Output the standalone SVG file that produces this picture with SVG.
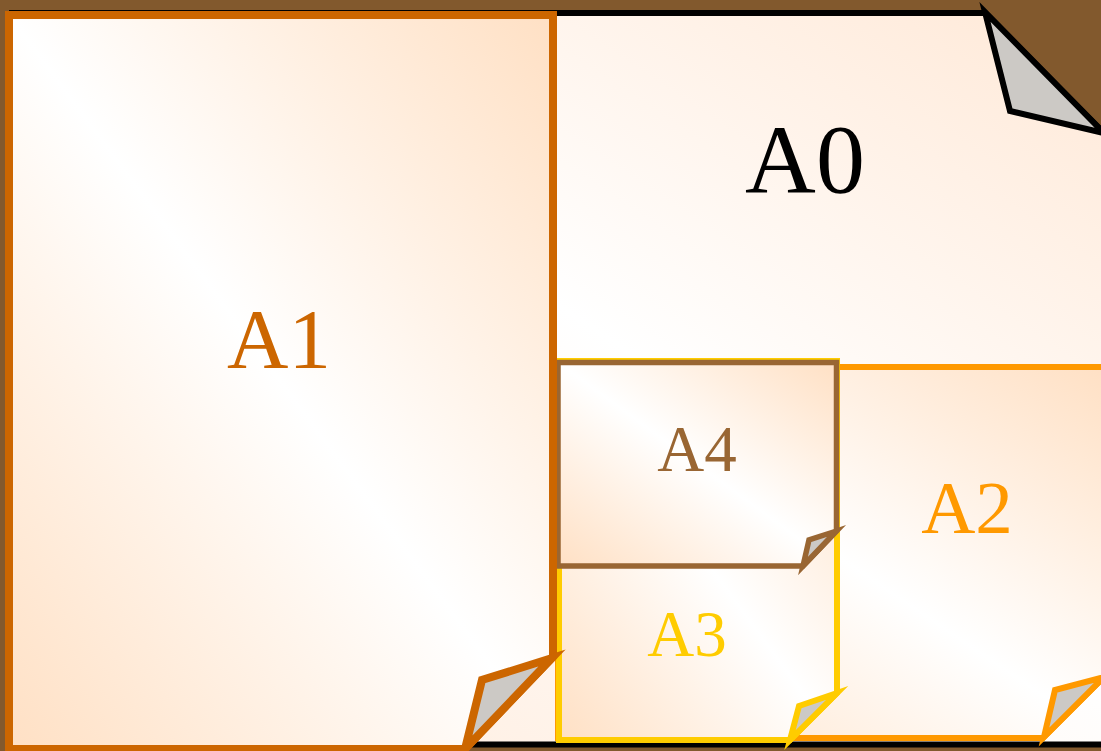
<svg xmlns="http://www.w3.org/2000/svg" width="1101" height="751" viewBox="0 0 1101 751">
<defs>
<linearGradient id="paper" x1="1" y1="0" x2="0" y2="1">
<stop offset="0" stop-color="#ffe0c4"/>
<stop offset="0.5" stop-color="#ffffff"/>
<stop offset="1" stop-color="#ffe0c4"/>
</linearGradient>
<linearGradient id="paper0" x1="1" y1="0" x2="0" y2="1">
<stop offset="0" stop-color="#ffe8d6"/>
<stop offset="0.45" stop-color="#ffffff"/>
<stop offset="1" stop-color="#ffe8d6"/>
</linearGradient>
<style>
.page{fill:url(#paper);stroke-linejoin:miter;stroke-miterlimit:10}
.fold{fill:#ccc9c5;stroke-linejoin:miter;stroke-miterlimit:10}
.lbl{font-family:"Liberation Serif","Times New Roman",serif;text-anchor:middle}
</style>
</defs>
<rect x="0" y="0" width="1101" height="751" fill="#82592d"/>
<g id="A0">
<path class="page" d="M12,13 H985 L1106,135 V744.5 H12 Z" stroke="#000" stroke-width="6" style="fill:url(#paper0)"/>
<path class="fold" d="M985,12 L1010,111 L1104,133 Z" stroke="#000" stroke-width="6"/>
<text class="lbl" x="805" y="192" font-size="98" fill="#000">A0</text>
</g>
<g id="A2">
<path class="page" d="M558,367 H1106 V675 L1043,738 H558 Z" stroke="#ff9900" stroke-width="6"/>
<path class="fold" d="M1104,677 L1055,690 L1044,737 Z" stroke="#ff9900" stroke-width="6"/>
<text class="lbl" x="967" y="533" font-size="75" fill="#ff9900">A2</text>
</g>
<g id="A3">
<path class="page" d="M559,361 H837 V693 L790,740 H559 Z" stroke="#ffcc00" stroke-width="6"/>
<path class="fold" d="M837,693 L799,706 L790,740 Z" stroke="#ffcc00" stroke-width="6"/>
<text class="lbl" x="687" y="656" font-size="65" fill="#ffcc00">A3</text>
</g>
<g id="A4">
<path class="page" d="M558,362.5 H836.5 V531 L803,566 H558 Z" stroke="#996633" stroke-width="5.5"/>
<path class="fold" d="M836.5,531 L809,540 L803,566 Z" stroke="#996633" stroke-width="5.5"/>
<text class="lbl" x="697" y="471" font-size="65" fill="#996633">A4</text>
</g>
<g id="A1">
<path class="page" d="M9,15 H553 V657 L465,749 H9 Z" stroke="#cc6600" stroke-width="8"/>
<path class="fold" d="M552,658 L482,680 L465,749 Z" stroke="#cc6600" stroke-width="8"/>
<text class="lbl" x="279" y="368" font-size="85" fill="#cc6600">A1</text>
</g>
<g id="connectors"/>
</svg>
